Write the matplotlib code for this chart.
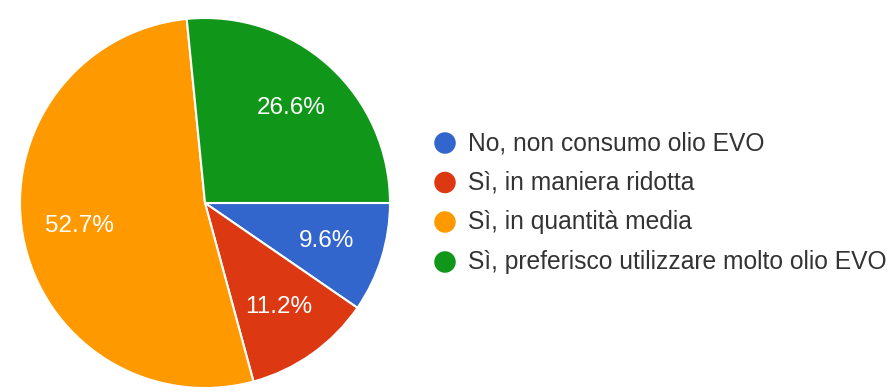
import matplotlib
matplotlib.use("Agg")
import matplotlib.pyplot as plt

categories = ["No, non consumo olio EVO", "Sì, in maniera ridotta",
              "Sì, in quantità media", "Sì, preferisco utilizzare molto olio EVO"]
values = [9.6, 11.2, 52.7, 26.6]
colors = ["#3366cc", "#dc3912", "#ff9900", "#109618"]

plt.rcParams['font.family'] = ['Liberation Sans', 'DejaVu Sans']

W, H = 891, 392
fig = plt.figure(figsize=(W / 100, H / 100), dpi=100)
fig.patch.set_facecolor("white")

cx, cy, r = 205, 203, 185
ax = fig.add_axes([(cx - r) / W, (H - cy - r) / H, 2 * r / W, 2 * r / H])
_vals = iter(values)
wedges, texts, autotexts = ax.pie(
    values, colors=colors, startangle=0, counterclock=False,
    autopct=lambda p: f"{next(_vals):.1f}%", pctdistance=0.69,
    wedgeprops=dict(edgecolor="white", linewidth=1.5),
    textprops=dict(color="white", fontsize=17.5))
ax.set_xlim(-1, 1)
ax.set_ylim(-1, 1)
ax.set_aspect("equal")
ax.axis("off")

lax = fig.add_axes([0, 0, 1, 1])
lax.set_xlim(0, W)
lax.set_ylim(H, 0)
lax.axis("off")
row_y = [143, 182.5, 222, 262]
for y, lab, c in zip(row_y, categories, colors):
    lax.scatter([445], [y], s=240, color=c, edgecolors="none")
    lax.text(468, y, lab, fontsize=17.7, color="#333333", va="center", ha="left")

fig.savefig("out.png", dpi=100)
